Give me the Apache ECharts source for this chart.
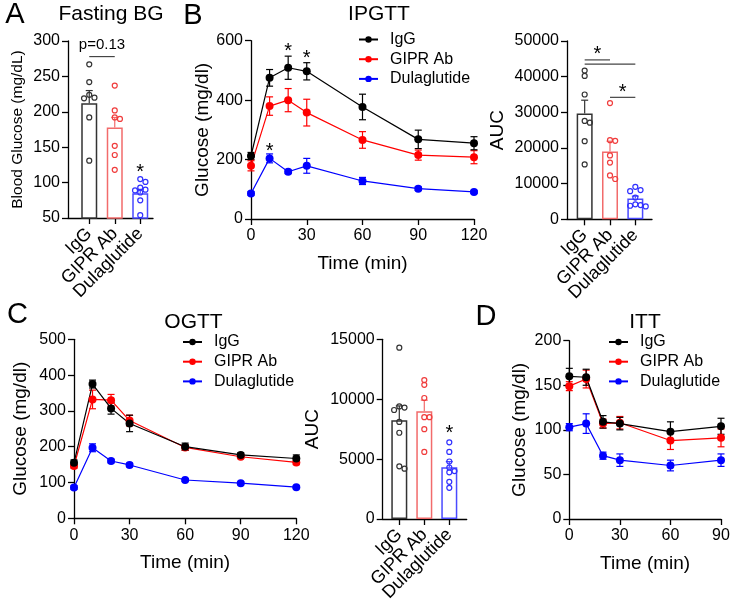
<!DOCTYPE html>
<html><head><meta charset="utf-8">
<script src="https://cdn.jsdelivr.net/npm/echarts@6/dist/echarts.min.js"></script>
<style>html,body{margin:0;padding:0;background:#fff}#c{width:731px;height:604px}</style>
</head><body><div id="c"></div>
<script>
const FONT = 'Arial, "Liberation Sans", sans-serif';
const groups = ['IgG', 'GIPR Ab', 'Dulaglutide'];
const lineColors = ['#000000', '#ff0000', '#0000ff'];
const barColors = ['#333333', '#f26b6b', '#4a4aff'];
const dotColors = ['#333333', '#f03c3c', '#3030ff'];

// ---- A: Fasting BG ----
const fbgAxis = [50, 300, 50];
const fbgMean = [212, 178, 85];
const fbgSem = [18, 14, 5.5];
const fbgPoints = [
  [267, 242, 224, 220, 219, 192, 131],
  [237, 202, 192, 190, 152, 139, 118],
  [105, 101, 93, 90, 89, 86, 75, 54]
];
const fbgSigLines = [[0, 1, 278]];
const fbgMarks = [[0, 1, 294, 'p=0.13', 15], [2, 2, 122.5, '*', 20]];

// ---- B: IPGTT ----
const ipTime = [0, 10, 20, 30, 60, 90, 120];
const ipAxisX = [0, 120, 30];
const ipAxisY = [0, 600, 200];
const ipIgG = [212, 475, 509, 497, 377, 268, 255];
const ipIgGErr = [12, 28, 39, 29, 43, 31, 22];
const ipGIPR = [179, 380, 400, 358, 266, 215, 208];
const ipGIPRErr = [17, 31, 39, 45, 28, 17, 22];
const ipDula = [86, 204, 159, 179, 128, 102, 91];
const ipDulaErr = [6, 15, 6, 25, 12, 6, 5];
const ipMarks = [[20, 20, 583, '*', 20], [30, 30, 558, '*', 20], [10, 10, 247, '*', 20]];

// ---- B: IPGTT AUC ----
const ipAucAxis = [0, 50000, 10000];
const ipAucMean = [29700, 19000, 5800];
const ipAucSem = [3700, 2900, 700];
const ipAucPoints = [
  [40200, 41700, 35000, 27600, 27100, 21900, 15400],
  [32600, 22000, 22200, 17900, 15900, 12300, 11300],
  [9100, 8200, 7900, 6100, 4200, 4000, 3800, 3600]
];
const ipAucSigLines = [[0, 1, 44700], [0, 2, 43500], [1, 2, 34200]];
const ipAucMarks = [[0, 1, 47750, '*', 20], [1, 2, 37070, '*', 20]];

// ---- C: OGTT ----
const ogTime = [0, 10, 20, 30, 60, 90, 120];
const ogAxisX = [0, 120, 30];
const ogAxisY = [0, 500, 100];
const ogIgG = [155, 375, 307, 265, 200, 177, 167];
const ogIgGErr = [8, 11, 16, 23, 10, 6, 10];
const ogGIPR = [146, 332, 330, 273, 198, 172, 156];
const ogGIPRErr = [6, 26, 16, 15, 8, 5, 6];
const ogDula = [86, 197, 160, 149, 107, 98, 87];
const ogDulaErr = [5, 11, 5, 5, 4, 4, 4];

// ---- C: OGTT AUC ----
const ogAucAxis = [0, 15000, 5000];
const ogAucMean = [8250, 9000, 4320];
const ogAucSem = [1190, 920, 470];
const ogAucPoints = [
  [14300, 9100, 9300, 9400, 8100, 7200, 4400, 4200],
  [11600, 11200, 10100, 8500, 8500, 7500, 5600],
  [6400, 5600, 4800, 4300, 4000, 3900, 3100, 2600]
];
const ogAucMarks = [[2, 2, 7600, '*', 20]];

// ---- D: ITT ----
const ittTime = [0, 10, 20, 30, 60, 90];
const ittAxisX = [0, 90, 30];
const ittAxisY = [0, 200, 50];
const ittIgG = [160, 159, 109, 107, 98, 104];
const ittIgGErr = [9, 9, 7, 7, 11, 9];
const ittGIPR = [149, 157, 107, 108, 88, 91];
const ittGIPRErr = [5, 10, 5, 7, 10, 10];
const ittDula = [103, 107, 71, 66, 60, 66];
const ittDulaErr = [4, 11, 4, 7, 6, 7];

// ================= helpers =================
const AX = { color: '#000', width: 1.3 };
function gridDef(l, t, w, h) {
  return { left: l, top: t, width: w, height: h, containLabel: false, outerBoundsMode: 'none' };
}
function valY(gi, rng, name, gap, nsize) {
  return {
    type: 'value', gridIndex: gi, min: rng[0], max: rng[1], interval: rng[2],
    axisLine: { show: true, lineStyle: AX },
    axisTick: { show: true, length: 6, lineStyle: AX },
    axisLabel: { color: '#000', fontSize: 16, fontFamily: FONT, margin: 8, formatter: v => String(v) },
    splitLine: { show: false },
    name: name, nameLocation: 'middle', nameGap: gap,
    nameTextStyle: { color: '#000', fontSize: nsize, fontFamily: FONT }
  };
}
function hidY(gi, rng) {
  return { type: 'value', gridIndex: gi, min: rng[0], max: rng[1], interval: rng[2], show: false, splitLine: { show: false } };
}
function frameX(gi) {
  return {
    type: 'value', gridIndex: gi, min: 0, max: 1,
    axisLine: { show: true, onZero: false, lineStyle: AX },
    axisTick: { show: false }, axisLabel: { show: false }, splitLine: { show: false }
  };
}
function catX(gi) {
  return {
    type: 'category', gridIndex: gi, data: groups,
    axisLine: { show: false },
    axisTick: { show: true, alignWithLabel: true, length: 6, lineStyle: AX },
    axisLabel: { rotate: 45, interval: 0, color: '#000', fontSize: 18, fontFamily: FONT, margin: 13 },
    splitLine: { show: false }
  };
}
function timeX(gi, rng) {
  return {
    type: 'value', gridIndex: gi, min: rng[0], max: rng[1], interval: rng[2],
    axisLine: { show: true, onZero: false, lineStyle: AX },
    axisTick: { show: true, length: 6, lineStyle: AX },
    axisLabel: { color: '#000', fontSize: 16, fontFamily: FONT, margin: 9 },
    splitLine: { show: false },
    name: 'Time (min)', nameLocation: 'middle', nameGap: 35,
    nameTextStyle: { color: '#000', fontSize: 19, fontFamily: FONT }
  };
}
function lineSeries(ai, name, xs, ys, color) {
  return {
    type: 'line', name: name, xAxisIndex: ai, yAxisIndex: ai,
    data: xs.map((x, i) => [x, ys[i]]),
    symbol: 'circle', symbolSize: 8, z: 4,
    itemStyle: { color: color }, lineStyle: { color: color, width: 1.2 },
    emphasis: { disabled: true }, animation: false
  };
}
function errSeries(ai, xs, ys, es, colors, upOnly) {
  return {
    type: 'custom', xAxisIndex: ai, yAxisIndex: ai, silent: true, z: 3, animation: false,
    data: xs.map((x, i) => [x, ys[i], es[i]]),
    renderItem: function (p, api) {
      const x = api.value(0), y = api.value(1), e = api.value(2);
      const col = Array.isArray(colors) ? colors[p.dataIndex] : colors;
      const top = api.coord([x, y + e]);
      const bot = api.coord([x, upOnly ? y : y - e]);
      const w = 3.5;
      const st = { stroke: col, lineWidth: 1.2 };
      const ch = [
        { type: 'line', shape: { x1: top[0], y1: top[1], x2: bot[0], y2: bot[1] }, style: st },
        { type: 'line', shape: { x1: top[0] - w, y1: top[1], x2: top[0] + w, y2: top[1] }, style: st }
      ];
      if (!upOnly) ch.push({ type: 'line', shape: { x1: bot[0] - w, y1: bot[1], x2: bot[0] + w, y2: bot[1] }, style: st });
      return { type: 'group', children: ch };
    }
  };
}
function barSeries(ai, means) {
  return {
    type: 'bar', xAxisIndex: ai, yAxisIndex: ai, barWidth: 16, z: 2, silent: true, animation: false,
    data: means.map((v, i) => ({ value: v, itemStyle: { color: '#ffffff', borderColor: barColors[i], borderWidth: 1.5 } }))
  };
}
function dotSeries(ai, pts) {
  return {
    type: 'custom', xAxisIndex: ai, yAxisIndex: ai, silent: true, z: 5, animation: false,
    data: pts.map((arr, i) => [i, arr[0]]),
    renderItem: function (p, api) {
      const g = p.dataIndex;
      const r = 2.5, d = 4.6, step = 5.2;
      const cx = api.coord([g, pts[g][0]])[0];
      const ys = pts[g].map(v => api.coord([g, v])[1]).sort((a, b) => a - b);
      const placed = [];
      const offs = [0, step, -step, 2 * step, -2 * step];
      ys.forEach(y => {
        let best = null, bestD = -1;
        for (const o of offs) {
          const x = cx + o;
          const md = placed.reduce((m, q) => Math.min(m, Math.hypot(q[0] - x, q[1] - y)), 1e9);
          if (md >= d) { best = x; break; }
          if (md > bestD) { bestD = md; best = x; }
        }
        placed.push([best, y]);
      });
      return {
        type: 'group',
        children: placed.map(q => ({ type: 'circle', shape: { cx: q[0], cy: q[1], r: r }, style: { fill: 'rgba(255,255,255,0)', stroke: dotColors[g], lineWidth: 1.2 } }))
      };
    }
  };
}
function annotSeries(ai, lines, marks) {
  return {
    type: 'custom', xAxisIndex: ai, yAxisIndex: ai, silent: true, z: 6, animation: false,
    data: [[0, 0]],
    renderItem: function (p, api) {
      const ch = [];
      lines.forEach(l => {
        const a = api.coord([l[0], l[2]]), b = api.coord([l[1], l[2]]);
        ch.push({ type: 'line', shape: { x1: a[0], y1: a[1], x2: b[0], y2: b[1] }, style: { stroke: '#444', lineWidth: 1.2 } });
      });
      marks.forEach(m => {
        const a = api.coord([m[0], m[2]]), b = api.coord([m[1], m[2]]);
        const star = m[3] === '*';
        ch.push({
          type: 'text',
          style: {
            text: m[3], x: (a[0] + b[0]) / 2, y: a[1] + (star ? m[4] * 0.28 : 0),
            fill: '#000', fontSize: m[4], fontFamily: FONT, align: 'center', verticalAlign: 'middle'
          }
        });
      });
      return { type: 'group', children: ch };
    }
  };
}
function legendDef(l, t) {
  return {
    left: l, top: t, orient: 'vertical', data: groups, selectedMode: false, padding: 0,
    itemWidth: 19, itemHeight: 8, itemGap: 3.7,
    textStyle: { color: '#000', fontSize: 16, fontFamily: FONT, lineHeight: 16, padding: [0, 0, 0, 7] }
  };
}
function label(x, y, text, size) {
  return { type: 'text', x: x, y: y, silent: true, style: { text: text, fill: '#000', fontSize: size, fontFamily: FONT, align: 'center', verticalAlign: 'middle' } };
}

// ================= option =================
const series = [];
// A
series.push(barSeries(1, fbgMean));
series.push(errSeries(1, [0, 1, 2], fbgMean, fbgSem, barColors, true));
series.push(dotSeries(1, fbgPoints));
series.push(annotSeries(1, fbgSigLines, fbgMarks));
// B
series.push(errSeries(2, ipTime, ipDula, ipDulaErr, lineColors[2], false));
series.push(lineSeries(2, groups[2], ipTime, ipDula, lineColors[2]));
series.push(errSeries(2, ipTime, ipGIPR, ipGIPRErr, lineColors[1], false));
series.push(lineSeries(2, groups[1], ipTime, ipGIPR, lineColors[1]));
series.push(errSeries(2, ipTime, ipIgG, ipIgGErr, lineColors[0], false));
series.push(lineSeries(2, groups[0], ipTime, ipIgG, lineColors[0]));
series.push(annotSeries(2, [], ipMarks));
// B AUC
series.push(barSeries(4, ipAucMean));
series.push(errSeries(4, [0, 1, 2], ipAucMean, ipAucSem, barColors, true));
series.push(dotSeries(4, ipAucPoints));
series.push(annotSeries(4, ipAucSigLines, ipAucMarks));
// C
series.push(errSeries(5, ogTime, ogDula, ogDulaErr, lineColors[2], false));
series.push(lineSeries(5, groups[2], ogTime, ogDula, lineColors[2]));
series.push(errSeries(5, ogTime, ogGIPR, ogGIPRErr, lineColors[1], false));
series.push(lineSeries(5, groups[1], ogTime, ogGIPR, lineColors[1]));
series.push(errSeries(5, ogTime, ogIgG, ogIgGErr, lineColors[0], false));
series.push(lineSeries(5, groups[0], ogTime, ogIgG, lineColors[0]));
// C AUC
series.push(barSeries(7, ogAucMean));
series.push(errSeries(7, [0, 1, 2], ogAucMean, ogAucSem, barColors, true));
series.push(dotSeries(7, ogAucPoints));
series.push(annotSeries(7, [], ogAucMarks));
// D
series.push(errSeries(8, ittTime, ittDula, ittDulaErr, lineColors[2], false));
series.push(lineSeries(8, groups[2], ittTime, ittDula, lineColors[2]));
series.push(errSeries(8, ittTime, ittGIPR, ittGIPRErr, lineColors[1], false));
series.push(lineSeries(8, groups[1], ittTime, ittGIPR, lineColors[1]));
series.push(errSeries(8, ittTime, ittIgG, ittIgGErr, lineColors[0], false));
series.push(lineSeries(8, groups[0], ittTime, ittIgG, lineColors[0]));

const option = {
  animation: false,
  backgroundColor: '#ffffff',
  textStyle: { fontFamily: FONT },
  grid: [
    gridDef(68, 41, 85, 177),
    gridDef(76.5, 41, 76.5, 177),
    gridDef(251, 40.7, 223, 178.3),
    gridDef(567, 41, 85, 178.3),
    gridDef(572, 41, 76, 178.3),
    gridDef(74, 339.3, 222.3, 179),
    gridDef(382.7, 339.3, 84, 179.7),
    gridDef(386.8, 339.3, 75, 179.7),
    gridDef(569.3, 340.7, 151.7, 178.3)
  ],
  xAxis: [frameX(0), catX(1), timeX(2, ipAxisX), frameX(3), catX(4), timeX(5, ogAxisX), frameX(6), catX(7), timeX(8, ittAxisX)],
  yAxis: [
    valY(0, fbgAxis, 'Blood Glucose (mg/dL)', 42, 15.5), hidY(1, fbgAxis),
    valY(2, ipAxisY, 'Glucose (mg/dl)', 38, 19),
    valY(3, ipAucAxis, 'AUC', 60, 19), hidY(4, ipAucAxis),
    valY(5, ogAxisY, 'Glucose (mg/dl)', 44, 19),
    valY(6, ogAucAxis, 'AUC', 60, 19), hidY(7, ogAucAxis),
    valY(8, ittAxisY, 'Glucose (mg/dl)', 40, 19)
  ],
  legend: [legendDef(358, 31.5), legendDef(182, 334), legendDef(608, 334)],
  graphic: [
    label(15, 15, 'A', 29), label(193, 16, 'B', 29), label(17.5, 315, 'C', 29), label(486, 317, 'D', 29),
    label(111, 14, 'Fasting BG', 21), label(379, 14, 'IPGTT', 21),
    label(193.5, 322, 'OGTT', 21), label(645, 322, 'ITT', 21)
  ],
  series: series
};
const chart = echarts.init(document.getElementById('c'), null, { renderer: 'canvas', width: 731, height: 604 });
chart.setOption(option);
</script>
</body></html>
